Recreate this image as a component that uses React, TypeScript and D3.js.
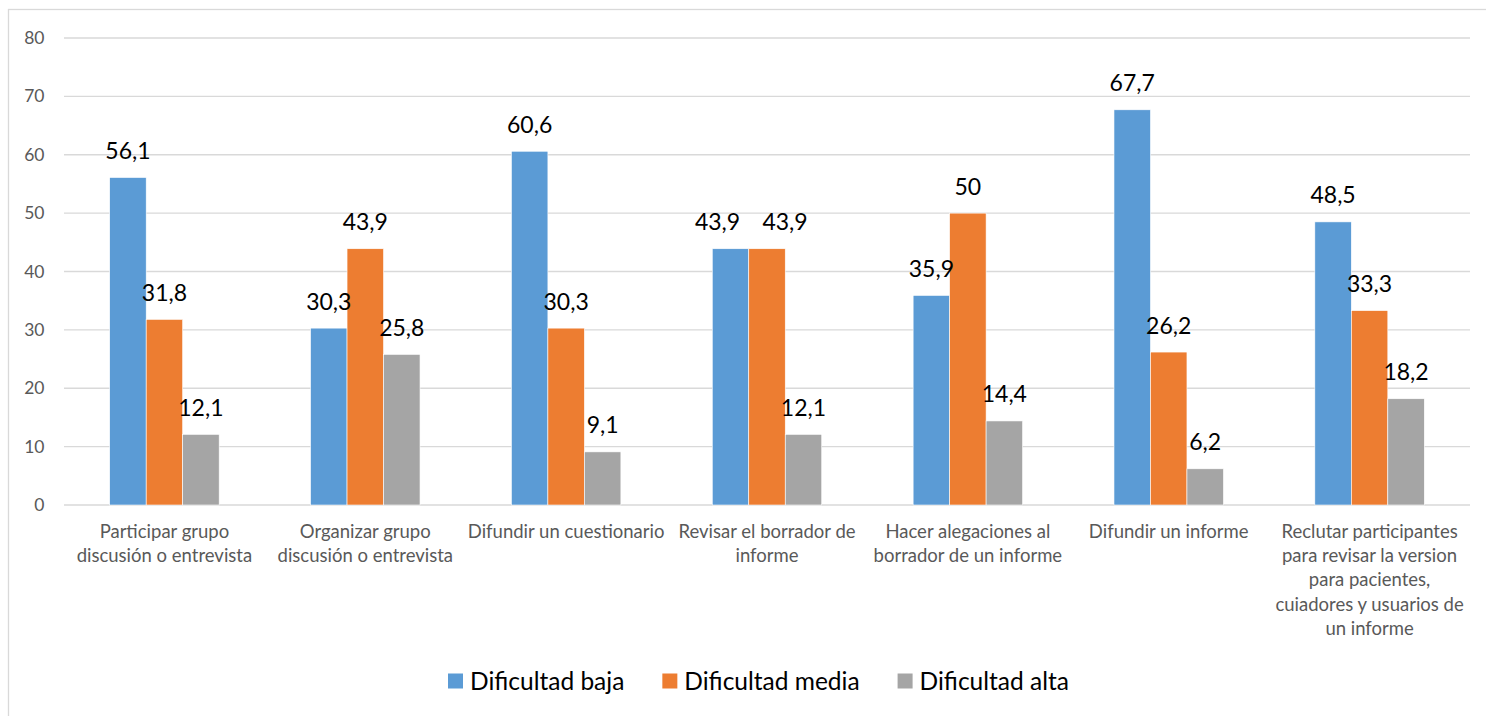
import React, { useEffect, useRef } from "react";
import * as d3 from "d3";

// Categories (x axis), each with its wrapped label lines
const categories: string[][] = [
  ["Participar grupo", "discusión o entrevista"],
  ["Organizar grupo", "discusión o entrevista"],
  ["Difundir un cuestionario"],
  ["Revisar el borrador de", "informe"],
  ["Hacer alegaciones al", "borrador de un informe"],
  ["Difundir un informe"],
  [
    "Reclutar participantes",
    "para revisar la version",
    "para pacientes,",
    "cuiadores y usuarios de",
    "un informe",
  ],
];

const seriesNames = ["Dificultad baja", "Dificultad media", "Dificultad alta"];
const seriesColors = ["#5B9BD5", "#ED7D31", "#A5A5A5"];

const baja = [56.1, 30.3, 60.6, 43.9, 35.9, 67.7, 48.5];
const media = [31.8, 43.9, 30.3, 43.9, 50, 26.2, 33.3];
const alta = [12.1, 25.8, 9.1, 12.1, 14.4, 6.2, 18.2];

const yTicks = [0, 10, 20, 30, 40, 50, 60, 70, 80];

const W = 1486;
const H = 716;
const FONT = "Lato, 'Noto Sans', sans-serif";

const fmt = (v: number) =>
  Number.isInteger(v) ? String(v) : v.toFixed(1).replace(".", ",");

export default function App() {
  const ref = useRef<SVGSVGElement>(null);

  useEffect(() => {
    const svg = d3.select(ref.current);
    svg.selectAll("*").remove();

    const plot = { left: 64, right: 1470, top: 38, bottom: 505 };
    const values = [baja, media, alta];

    // chart frame
    svg
      .append("rect")
      .attr("x", 8.5)
      .attr("y", 9.5)
      .attr("width", 1500)
      .attr("height", 730)
      .attr("fill", "#fff")
      .attr("stroke", "#D9D9D9")
      .attr("stroke-width", 1.3);

    const y = d3.scaleLinear().domain([0, 80]).range([plot.bottom, plot.top]);
    const x0 = d3
      .scaleBand<number>()
      .domain(d3.range(categories.length))
      .range([plot.left, plot.right])
      .padding(0);
    const band = x0.bandwidth();
    const groupW = band * 0.545;
    const x1 = d3
      .scaleBand<number>()
      .domain(d3.range(seriesNames.length))
      .range([(band - groupW) / 2, (band + groupW) / 2])
      .padding(0);

    // gridlines and tick labels
    const g = svg.append("g");
    g.selectAll("line.grid")
      .data(yTicks)
      .join("line")
      .attr("x1", plot.left)
      .attr("x2", plot.right)
      .attr("y1", (d) => y(d))
      .attr("y2", (d) => y(d))
      .attr("stroke", "#D9D9D9")
      .attr("stroke-width", 1.3);
    g.selectAll("text.tick")
      .data(yTicks)
      .join("text")
      .attr("x", 44.5)
      .attr("y", (d) => y(d) + 6)
      .attr("text-anchor", "end")
      .attr("font-family", FONT)
      .attr("font-size", 17.5)
      .attr("fill", "#595959")
      .text((d) => String(d));

    // bars
    values.forEach((vals, s) => {
      const sg = svg.append("g");
      sg.selectAll("rect")
        .data(vals)
        .join("rect")
        .attr("x", (_, i) => (x0(i) as number) + (x1(s) as number))
        .attr("y", (d) => y(d))
        .attr("width", x1.bandwidth())
        .attr("height", (d) => y(0) - y(d))
        .attr("fill", seriesColors[s])
        .attr("stroke", "#fff")
        .attr("stroke-width", 0.6);
    });

    // data labels; labels of equal-height neighbours are pushed apart
    const labelX = (i: number, s: number) =>
      (x0(i) as number) + (x1(s) as number) + x1.bandwidth() / 2;
    values.forEach((vals, s) => {
      svg
        .append("g")
        .selectAll("text")
        .data(vals)
        .join("text")
        .attr("x", (d, i) => {
          let dx = 0;
          const next = values[s + 1];
          const prev = values[s - 1];
          if (next && Math.abs(next[i] - d) < 3) dx = -13;
          else if (prev && Math.abs(prev[i] - d) < 3) dx = 18;
          return labelX(i, s) + dx;
        })
        .attr("y", (d) => y(d) - 18.5)
        .attr("text-anchor", "middle")
        .attr("font-family", FONT)
        .attr("font-size", 23)
        .attr("fill", "#000")
        .text((d) => fmt(d));
    });

    // category labels
    const cg = svg.append("g");
    categories.forEach((lines, i) => {
      const t = cg
        .append("text")
        .attr("text-anchor", "middle")
        .attr("font-family", FONT)
        .attr("font-size", 18.5)
        .attr("fill", "#595959");
      lines.forEach((ln, k) => {
        t.append("tspan")
          .attr("x", (x0(i) as number) + band / 2)
          .attr("y", 538 + k * 24.2)
          .text(ln);
      });
    });

    // legend
    const lg = svg.append("g");
    let lx = 448;
    seriesNames.forEach((name, s) => {
      lg.append("rect")
        .attr("x", lx)
        .attr("y", 673.5)
        .attr("width", 15)
        .attr("height", 15)
        .attr("fill", seriesColors[s]);
      const t = lg
        .append("text")
        .attr("x", lx + 22)
        .attr("y", 689.5)
        .attr("font-family", FONT)
        .attr("font-size", 24.5)
        .attr("fill", "#000")
        .text(name);
      const w = (t.node() as SVGTextElement).getComputedTextLength();
      lx = lx + 22 + w + 38;
    });
  }, []);

  return (
    <div style={{ position: "absolute", left: 0, top: 0 }}>
      <svg ref={ref} width={W} height={H} style={{ display: "block" }} />
    </div>
  );
}
